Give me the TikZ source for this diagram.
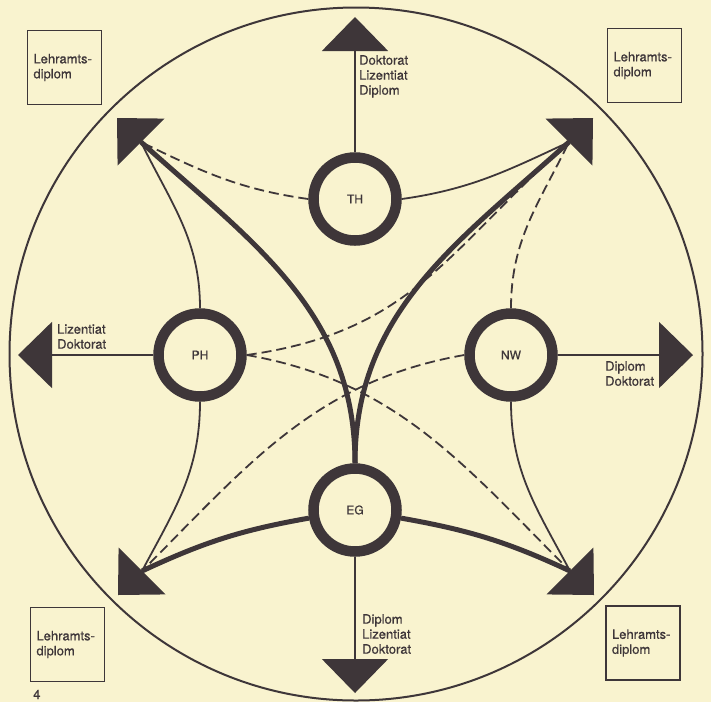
\documentclass[tikz,border=0pt]{standalone}
\usepackage{fontspec}
\setmainfont{TeX Gyre Heros}[FakeBold=0.6]
\definecolor{PaperCream}{RGB}{249,243,207}
\definecolor{InkGray}{RGB}{62,54,57}
\usepackage{tikz}
\usetikzlibrary{arrows.meta}
\tikzset{
  hub/.style={circle, draw=InkGray, fill=PaperCream, line width=10.5pt,
    minimum size=83pt, inner sep=0pt, text=InkGray, font=\fontsize{12}{14}\selectfont},
  degbox/.style={rectangle, draw=InkGray, line width=1.5pt, minimum size=74pt,
    text width=62pt, inner xsep=5pt, align=left, text=InkGray, font=\fontsize{13}{15}\selectfont},
  lbl/.style={anchor=north west, inner sep=0pt, align=left, text=InkGray,
    font=\fontsize{13}{15}\selectfont},
  route/.style={draw=InkGray, line width=1.8pt},
  mainroute/.style={draw=InkGray, line width=5pt},
  sideroute/.style={draw=InkGray, line width=1.8pt, dash pattern=on 10pt off 5pt},
  exit/.style={-{Triangle[length=34pt, width=66pt]}, draw=InkGray, line width=1.8pt}
}

\begin{document}
\begin{tikzpicture}[x=1pt, y=1pt]
  \fill[PaperCream] (0,0) rectangle (711,-702);
  \draw[InkGray, line width=2pt] (356,-354) circle (346.5);

  \node[hub] (TH) at (355,-199) {TH};
  \node[hub] (PH) at (200,-355) {PH};
  \node[hub] (NW) at (511,-355) {NW};
  \node[hub] (EG) at (355,-510) {EG};

  \coordinate (cTL) at (141,-142);
  \coordinate (cTR) at (569,-142);
  \coordinate (cBL) at (142,-571);
  \coordinate (cBR) at (570,-571);
  \coordinate (tTL) at (117,-118);
  \coordinate (tTR) at (593,-118);
  \coordinate (tBL) at (118,-595);
  \coordinate (tBR) at (594,-595);
  \coordinate (tTH) at (355,-17);
  \coordinate (tPH) at (18,-355);
  \coordinate (tNW) at (693,-355);
  \coordinate (tEG) at (355,-693);

  \node[degbox] (boxTL) at (64.5,-67.5) {Lehramts-\\diplom};
  \node[degbox] (boxTR) at (644.5,-65.5) {Lehramts-\\diplom};
  \node[degbox] (boxBL) at (67.5,-644.5) {Lehramts-\\diplom};
  \node[degbox] (boxBR) at (643,-643) {Lehramts-\\diplom};

  \node[lbl] (degTH) at (359,-55) {Doktorat\\Lizentiat\\Diplom};
  \node[lbl] (degPH) at (57,-324) {Lizentiat\\Doktorat};
  \node[lbl] (degNW) at (605,-361) {Diplom\\Doktorat};
  \node[lbl] (degEG) at (362,-614) {Diplom\\Lizentiat\\Doktorat};
  \node[anchor=base west, inner sep=0pt, text=InkGray, font=\fontsize{13}{15}\selectfont]
    (page) at (33,-699) {4};

  \draw[exit] (TH) -- (tTH);
  \draw[exit] (PH) -- (tPH);
  \draw[exit] (NW) -- (tNW);
  \draw[exit] (EG) -- (tEG);
  \foreach \c in {TL,TR,BL,BR}
    \draw[exit] (c\c) -- (t\c);

  \draw[mainroute] (cTL) to[out=-42, in=90] (EG);
  \draw[mainroute] (cTR) to[out=-138, in=90] (EG);
  \draw[mainroute] (EG) to[out=190, in=25] (cBL);
  \draw[mainroute] (EG) to[out=-10, in=155] (cBR);

  \draw[route] (PH) to[out=90, in=-64] (cTL);
  \draw[route] (PH) to[out=-90, in=62] (cBL);
  \draw[route] (NW) to[out=-90, in=118] (cBR);
  \draw[route] (TH.east) to[out=8, in=205] (cTR);

  \draw[sideroute] (TH.west) to[out=172, in=-26] (cTL);
  \draw[sideroute] (NW) to[out=90, in=-116] (cTR);
  \draw[sideroute] (PH.east) to[out=8, in=222, looseness=1.1] (cTR);
  \draw[sideroute] (PH.east) to[out=-10, in=135] (cBR);
  \draw[sideroute] (NW.west) to[out=190, in=45] (cBL);
\end{tikzpicture}
\end{document}
